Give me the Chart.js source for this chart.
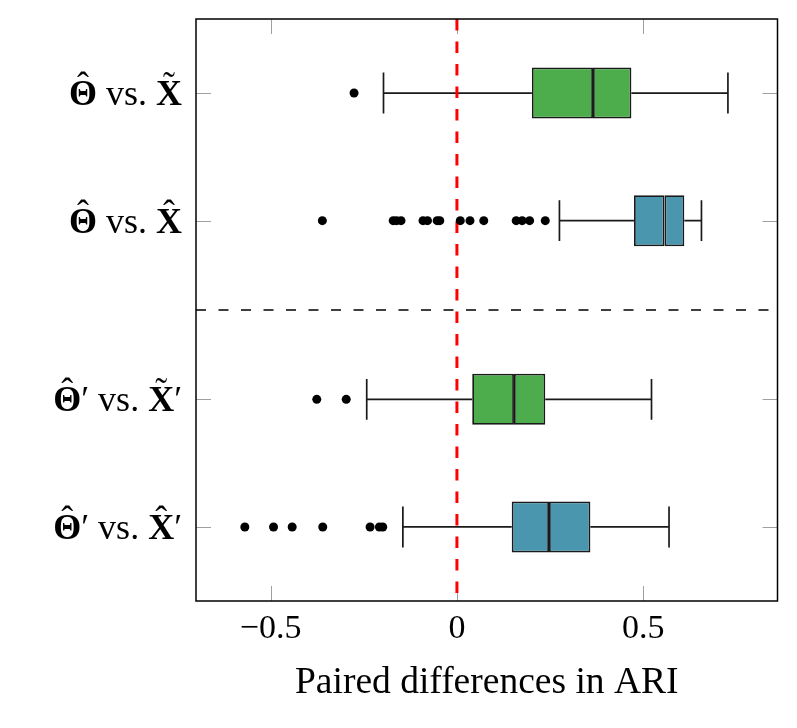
<!DOCTYPE html>
<html lang="en">
<head>
<meta charset="UTF-8">
<title>Paired differences in ARI</title>
<style>
  body { margin: 0; background: #fff; }
</style>
</head>
<body>
<canvas id="myChart" width="797" height="728"></canvas>
<script src="https://cdn.jsdelivr.net/npm/chart.js"></script>
<script>
// categories (top to bottom) and their positions on the y scale
const categories = ['Θ̂ vs. X̃', 'Θ̂ vs. X̂', 'Θ̂′ vs. X̃′', 'Θ̂′ vs. X̂′'];
const positions = [1, 2, 3.4, 4.4];

// box plot values
const lowWhisker = [-0.197, 0.275, -0.242, -0.145];
const q1 = [0.201, 0.475, 0.041, 0.147];
const median = [0.365, 0.557, 0.153, 0.247];
const q3 = [0.468, 0.610, 0.237, 0.358];
const highWhisker = [0.727, 0.656, 0.522, 0.569];

const outliers = [
    [-0.276],
    [-0.361, -0.171, -0.162, -0.150, -0.091, -0.079, -0.053, -0.046, 0.009, 0.035, 0.072, 0.159, 0.175, 0.195, 0.237],
    [-0.376, -0.297],
    [-0.569, -0.492, -0.442, -0.360, -0.233, -0.208, -0.199]
];

const boxColors = ['#4dad4d', '#4a96ae', '#4dad4d', '#4a96ae'];

// axes
const xMin = -0.7, xMax = 0.86;
const xTicks = [-0.5, 0, 0.5];
const yMin = 0.42, yMax = 4.98;
const separatorY = 2.7;
const capHalf = 0.16;

const serif = '"Liberation Serif", "Times New Roman", serif';
const ink = '#1a1a1a';

const gap = {x: null, y: null};

let whiskerPoints = [];
for (let i = 0; i < categories.length; i++) {
    const p = positions[i];
    whiskerPoints.push(
        {x: lowWhisker[i], y: p}, {x: q1[i], y: p}, gap,
        {x: q3[i], y: p}, {x: highWhisker[i], y: p}, gap,
        {x: lowWhisker[i], y: p - capHalf}, {x: lowWhisker[i], y: p + capHalf}, gap,
        {x: highWhisker[i], y: p - capHalf}, {x: highWhisker[i], y: p + capHalf}, gap
    );
}

let outlierPoints = [];
outliers.forEach((list, i) => {
    list.forEach(v => outlierPoints.push({x: v, y: positions[i]}));
});

// frame and inner tick marks like pgfplots
const framePlugin = {
    id: 'frame',
    beforeDatasetsDraw(chart) {
        const {ctx, chartArea: a, scales} = chart;
        const len = 15;
        ctx.save();
        ctx.strokeStyle = '#a0a0a0';
        ctx.lineWidth = 1;
        ctx.beginPath();
        xTicks.forEach(v => {
            const px = Math.round(scales.x.getPixelForValue(v)) + 0.5;
            ctx.moveTo(px, a.bottom); ctx.lineTo(px, a.bottom - len);
            ctx.moveTo(px, a.top); ctx.lineTo(px, a.top + len);
        });
        positions.forEach(v => {
            const py = Math.round(scales.y.getPixelForValue(v)) + 0.5;
            ctx.moveTo(a.left, py); ctx.lineTo(a.left + len, py);
            ctx.moveTo(a.right, py); ctx.lineTo(a.right - len, py);
        });
        ctx.stroke();
        ctx.restore();
    },
    afterDatasetsDraw(chart) {
        const {ctx, chartArea: a} = chart;
        ctx.save();
        ctx.strokeStyle = '#000';
        ctx.lineWidth = 1.5;
        ctx.strokeRect(a.left, a.top, a.right - a.left, a.bottom - a.top);
        ctx.restore();
    }
};

// y labels: symbols bold, "vs." and primes regular; accents placed over the letter
const accents = {'\u0302': 'ˆ', '\u0303': '˜'};
const labelPlugin = {
    id: 'mixedLabels',
    afterDraw(chart) {
        const ctx = chart.ctx;
        const yScale = chart.scales.y;
        const right = chart.chartArea.left - 14;
        const size = 36;
        const bold = 'bold ' + size + 'px ' + serif;
        const regular = size + 'px ' + serif;
        ctx.save();
        ctx.fillStyle = '#000';
        ctx.textBaseline = 'alphabetic';
        categories.forEach((label, i) => {
            const halves = label.split(' vs. ');
            let pieces = [];
            halves.forEach((h, k) => {
                if (k > 0) pieces.push({t: ' vs. ', f: regular});
                pieces.push({t: h[0], f: bold, acc: accents[h[1]]});
                if (h.endsWith('′')) pieces.push({t: '′', f: regular});
            });
            let w = 0;
            pieces.forEach(p => { ctx.font = p.f; w += ctx.measureText(p.t).width; });
            let x = right - w;
            const y = yScale.getPixelForValue(positions[i]) + 12;
            pieces.forEach(p => {
                ctx.font = p.f;
                const pw = ctx.measureText(p.t).width;
                ctx.textAlign = 'left';
                ctx.fillText(p.t, x, y);
                if (p.acc) {
                    ctx.font = regular;
                    ctx.textAlign = 'center';
                    ctx.fillText(p.acc, x + pw / 2, y - 8);
                }
                x += pw;
            });
        });
        ctx.restore();
    }
};

const ctx = document.getElementById('myChart').getContext('2d');
const chart = new Chart(ctx, {
    type: 'bar',
    data: {
        datasets: [
            {
                type: 'line',
                label: 'outliers',
                data: outlierPoints,
                showLine: false,
                pointRadius: 4.5,
                pointBackgroundColor: '#000',
                pointBorderWidth: 0,
                borderColor: '#000',
                order: 0
            },
            {
                type: 'line',
                label: 'zero',
                data: [{x: 0, y: yMin}, {x: 0, y: yMax}],
                borderColor: '#ff0000',
                borderWidth: 3,
                borderDash: [11.5, 11],
                pointRadius: 0,
                order: 1
            },
            {
                label: 'lower box',
                data: positions.map((p, i) => ({y: p, x: [q1[i], median[i]]})),
                backgroundColor: boxColors,
                borderColor: ink,
                borderWidth: 1.8,
                borderSkipped: false,
                grouped: false,
                categoryPercentage: 1,
                barPercentage: 0.4,
                order: 2
            },
            {
                label: 'upper box',
                data: positions.map((p, i) => ({y: p, x: [median[i], q3[i]]})),
                backgroundColor: boxColors,
                borderColor: ink,
                borderWidth: 1.8,
                borderSkipped: false,
                grouped: false,
                categoryPercentage: 1,
                barPercentage: 0.4,
                order: 3
            },
            {
                type: 'line',
                label: 'whiskers',
                data: whiskerPoints,
                borderColor: ink,
                borderWidth: 1.7,
                pointRadius: 0,
                spanGaps: false,
                order: 4
            },
            {
                type: 'line',
                label: 'separator',
                data: [{x: xMin, y: separatorY}, {x: xMax, y: separatorY}],
                borderColor: '#000',
                borderWidth: 1.5,
                borderDash: [10, 12.5],
                pointRadius: 0,
                order: 5
            }
        ]
    },
    options: {
        indexAxis: 'y',
        responsive: false,
        animation: false,
        layout: { padding: { top: 19, right: 19.5, left: 0, bottom: 0 } },
        plugins: { legend: { display: false }, tooltip: { enabled: false } },
        scales: {
            x: {
                type: 'linear',
                min: xMin,
                max: xMax,
                afterBuildTicks: scale => { scale.ticks = xTicks.map(v => ({value: v})); },
                afterFit: scale => { scale.height = 127; },
                grid: { display: false, drawTicks: false },
                border: { display: false },
                ticks: {
                    color: '#000',
                    padding: 8,
                    font: { family: serif, size: 34 },
                    callback: v => v < 0 ? '−' + Math.abs(v) : String(v)
                },
                title: {
                    display: true,
                    text: 'Paired differences in ARI',
                    color: '#000',
                    font: { family: serif, size: 37.5 },
                    padding: { top: 0, bottom: 22 }
                }
            },
            y: {
                type: 'linear',
                reverse: true,
                offset: false,
                min: yMin,
                max: yMax,
                afterBuildTicks: scale => { scale.ticks = positions.map(v => ({value: v})); },
                afterFit: scale => { scale.width = 196; },
                grid: { display: false, drawTicks: false },
                border: { display: false },
                ticks: { display: false }
            }
        }
    },
    plugins: [framePlugin, labelPlugin]
});
</script>
</body>
</html>
